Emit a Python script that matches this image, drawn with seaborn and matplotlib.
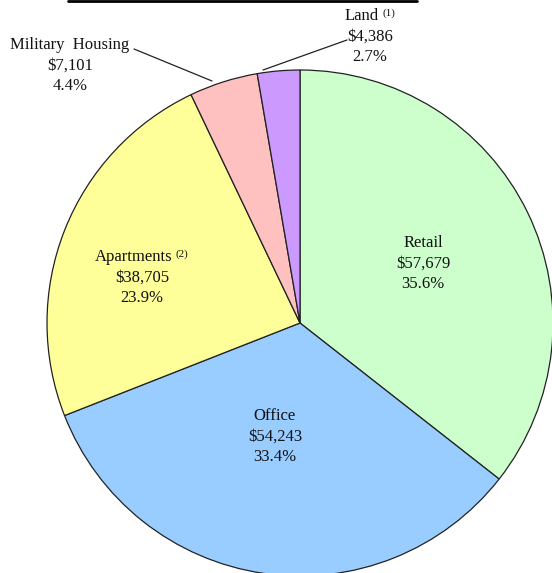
import matplotlib
matplotlib.use("Agg")
import matplotlib.pyplot as plt
import seaborn as sns
from matplotlib.lines import Line2D

sns.set_style("white")
plt.rcParams['font.family'] = ['Liberation Serif', 'DejaVu Serif']

categories = ["Retail", "Office", "Apartments", "Military  Housing", "Land"]
values = [57679, 54243, 38705, 7101, 4386]
percents = ["35.6%", "33.4%", "23.9%", "4.4%", "2.7%"]
amounts = ["$57,679", "$54,243", "$38,705", "$7,101", "$4,386"]
notes = ["", "", "(2)", "", "(1)"]
colors = ["#CCFFCC", "#99CCFF", "#FFFF99", "#FFC0C0", "#CC99FF"]

W, H = 552, 573
fig = plt.figure(figsize=(W / 100, H / 100), dpi=100)
ax = fig.add_axes([0, 0, 1, 1])

cx, cy, R = 300, H - 323, 253
ax.pie(values, colors=colors, startangle=90, counterclock=False,
       radius=R, center=(cx, cy), frame=True,
       wedgeprops=dict(edgecolor="#222222", linewidth=0.9))
ax.set_xlim(0, W)
ax.set_ylim(0, H)
ax.axis("off")

fs = 12
sfs = 8
lh = 20.5
tc = "#111111"
renderer = fig.canvas.get_renderer()

def width_px(s, size):
    t = ax.text(0, 0, s, fontsize=size)
    w = t.get_window_extent(renderer=renderer).width
    t.remove()
    return w

def block(x, ytop, i):
    y = H - ytop
    if notes[i]:
        w1 = width_px(categories[i], fs)
        w2 = width_px(notes[i], sfs)
        g = 3
        x0 = x - (w1 + g + w2) / 2
        ax.text(x0, y, categories[i], ha="left", va="center", fontsize=fs, color=tc)
        ax.text(x0 + w1 + g, y + 3, notes[i], ha="left", va="center", fontsize=sfs, color=tc)
    else:
        ax.text(x, y, categories[i], ha="center", va="center", fontsize=fs, color=tc)
    ax.text(x, y - lh, amounts[i], ha="center", va="center", fontsize=fs, color=tc)
    ax.text(x, y - 2 * lh, percents[i], ha="center", va="center", fontsize=fs, color=tc)

# inner labels
block(423, 243, 0)
block(275, 416, 1)
block(142, 257, 2)

# outer labels
block(70, 45, 3)
block(370, 16, 4)

# leader lines
ax.plot([134, 212], [H - 49, H - 81], color="#222222", lw=0.9)
ax.plot([347, 263], [H - 40, H - 70], color="#222222", lw=0.9)

# top rule
fig.add_artist(Line2D([68 / W, 417 / W], [1 - 1.2 / H, 1 - 1.2 / H], color="black", lw=2.0))

fig.savefig("out.png", dpi=100)
